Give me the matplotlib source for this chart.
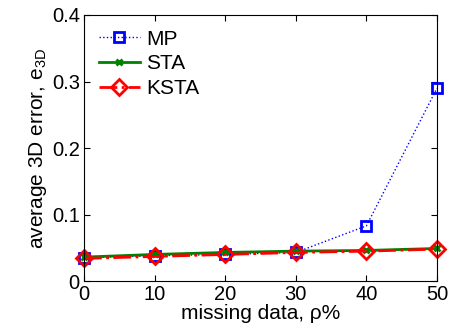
import matplotlib
matplotlib.use("Agg")
import matplotlib.pyplot as plt

plt.rcParams['font.family'] = ['Liberation Sans', 'DejaVu Sans']

x = [0, 10, 20, 30, 40, 50]
mp = [0.035, 0.038, 0.040, 0.043, 0.083, 0.290]
sta = [0.036, 0.040, 0.043, 0.045, 0.046, 0.049]
ksta = [0.034, 0.037, 0.040, 0.043, 0.045, 0.048]

fig = plt.figure(figsize=(4.54, 3.33), dpi=100)
ax = fig.add_axes([0.185, 0.156, 0.7776, 0.799])

ax.plot(x, mp, color='blue', linestyle=':', linewidth=1, marker='s',
        markersize=7.5, markerfacecolor='none', markeredgewidth=2, label='MP',
        clip_on=False)
ax.plot(x, sta, color='green', linestyle='-', linewidth=2, marker='x',
        markersize=5, markeredgewidth=2, label='STA', clip_on=False)
ax.plot(x, ksta, color='red', linestyle='-.', linewidth=2, marker='D',
        markersize=8, markerfacecolor='none', markeredgewidth=2, label='KSTA',
        clip_on=False)

ax.set_xlim(0, 50)
ax.set_ylim(0, 0.4)
ax.set_xticks(x)
ax.set_yticks([0, 0.1, 0.2, 0.3, 0.4])
ax.set_yticklabels(['0', '0.1', '0.2', '0.3', '0.4'])
ax.tick_params(direction='in', top=True, right=True, labelsize=14.5, length=4, pad=3)
for s in ax.spines.values():
    s.set_linewidth(0.8)
ax.set_xlabel('missing data, ρ%', fontsize=15, labelpad=0)
ax.set_ylabel('average 3D error, e$_{\\mathregular{3D}}$', fontsize=15, labelpad=2)
ax.legend(loc='upper left', frameon=False, fontsize=15, handlelength=2.0,
          borderaxespad=0.3, labelspacing=0.28, handletextpad=0.3)

fig.savefig('out.png', dpi=100)
